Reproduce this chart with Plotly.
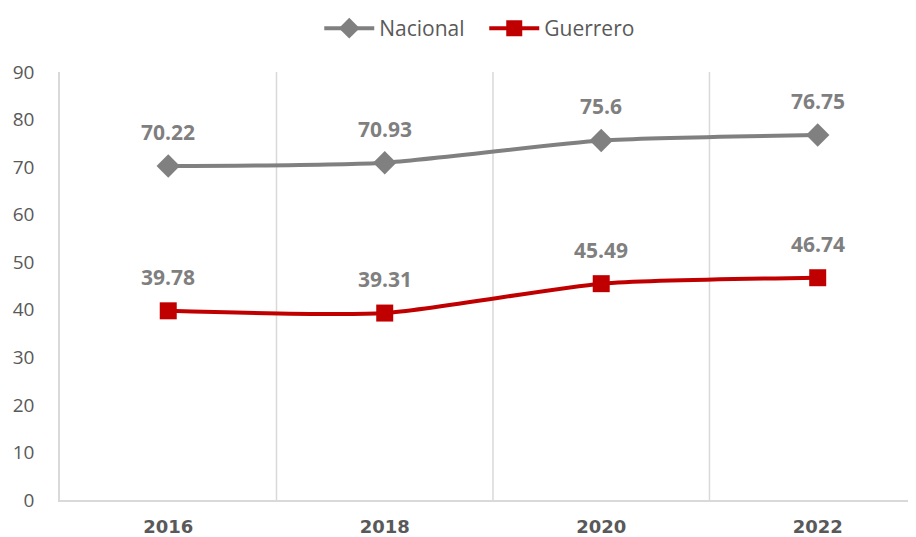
import plotly.graph_objects as go

years = ["2016", "2018", "2020", "2022"]
nacional = [70.22, 70.93, 75.6, 76.75]
guerrero = [39.78, 39.31, 45.49, 46.74]
y_ticks = [0, 10, 20, 30, 40, 50, 60, 70, 80, 90]

x_idx = list(range(len(years)))

fig = go.Figure()
fig.add_trace(go.Scatter(
    x=x_idx, y=nacional, name="Nacional", mode="lines+markers",
    line=dict(color="#808080", width=4, shape="spline", smoothing=0.6),
    marker=dict(symbol="diamond", size=18, color="#808080"),
))
fig.add_trace(go.Scatter(
    x=x_idx, y=guerrero, name="Guerrero", mode="lines+markers",
    line=dict(color="#C00000", width=4, shape="spline", smoothing=0.6),
    marker=dict(symbol="square", size=17, color="#C00000"),
))

for series in (nacional, guerrero):
    for i, v in enumerate(series):
        fig.add_annotation(
            x=i, y=v, text=f"{v:g}", showarrow=False, yshift=34,
            font=dict(family="Open Sans", size=21, color="#7F7F7F", weight="bold"),
        )

for b in [0.5, 1.5, 2.5]:
    fig.add_shape(type="line", xref="x", yref="paper", x0=b, x1=b, y0=0, y1=1,
                  line=dict(color="#D9D9D9", width=1.5), layer="below")

fig.update_layout(
    width=908, height=529,
    margin=dict(l=52, r=0, t=64, b=37, autoexpand=False),
    paper_bgcolor="white", plot_bgcolor="white",
    font=dict(family="Open Sans", size=18, color="#595959"),
    showlegend=True,
    legend=dict(orientation="h", x=275 / 908, xanchor="left", y=1, yanchor="top",
                yref="container", font=dict(size=21, color="#595959"),
                itemwidth=50, entrywidth=100, tracegroupgap=0, borderwidth=0),
    xaxis=dict(
        range=[-0.5, 3.454], tickmode="array", tickvals=x_idx, ticktext=years,
        showgrid=False, zeroline=False, showline=True, linecolor="#D9D9D9", linewidth=1.5,
        ticks="", ticklabelstandoff=10,
        tickfont=dict(family="DejaVu Sans", size=18, color="#595959", weight="bold"),
        fixedrange=True,
    ),
    yaxis=dict(
        range=[0, 90], tickmode="array", tickvals=y_ticks,
        showgrid=False, zeroline=False, showline=True, linecolor="#D9D9D9", linewidth=1.5,
        ticks="", ticklabelstandoff=20, tickfont=dict(size=19, color="#595959"),
    ),
)

fig.write_html("out.html")
